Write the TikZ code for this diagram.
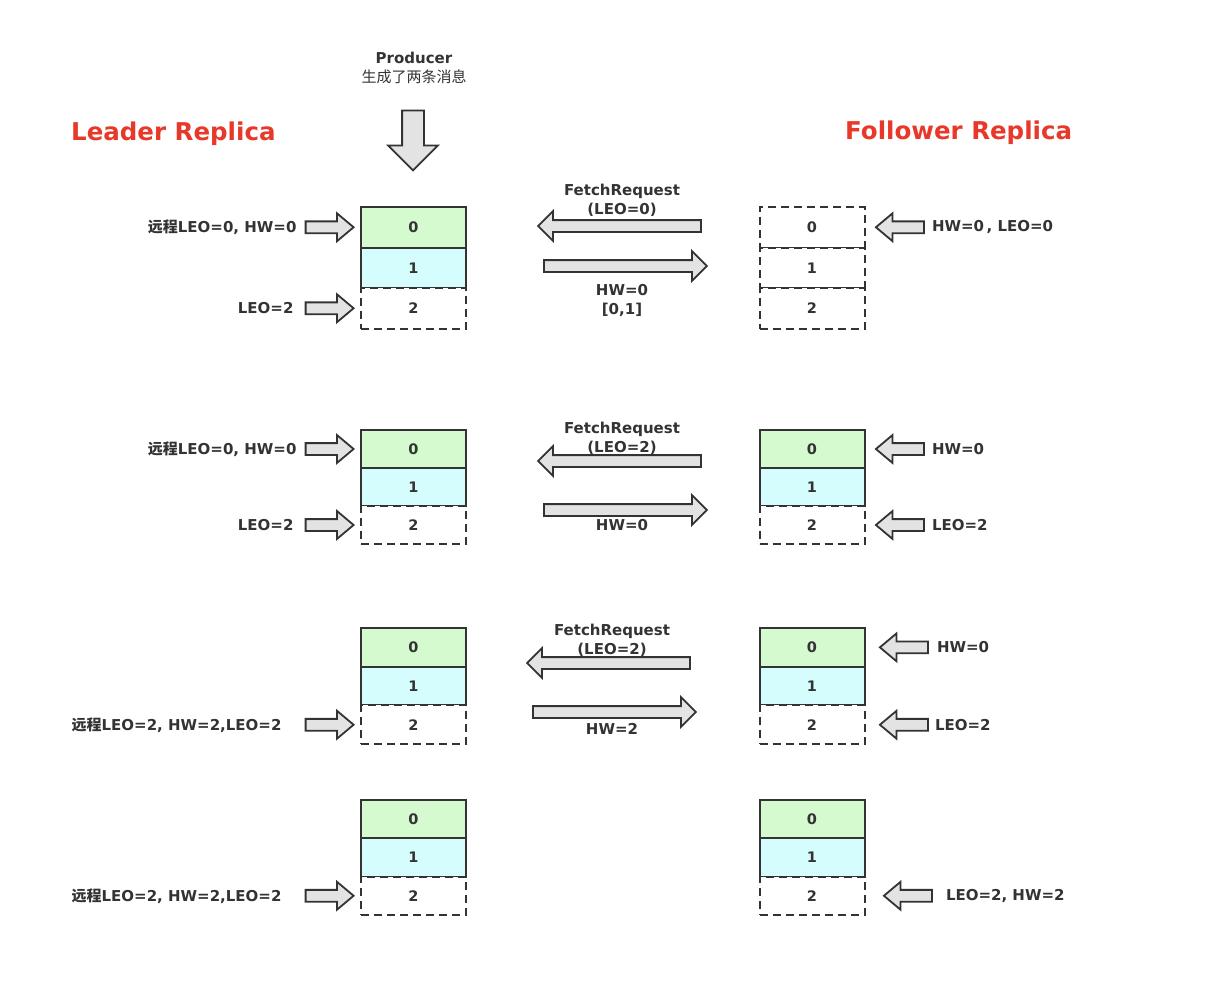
\documentclass[tikz,border=0pt]{standalone}
\usepackage{fontspec}
\setmainfont{DejaVu Sans}
\newfontfamily\cjk{Noto Sans CJK SC}
\usepackage{tikz}
\usetikzlibrary{positioning}
\usetikzlibrary{shapes.arrows}

\definecolor{edge}{HTML}{333333}
\definecolor{txt}{HTML}{333333}
\definecolor{msgok}{HTML}{D5FAD0}
\definecolor{msgnew}{HTML}{D5FDFD}
\definecolor{pointer}{HTML}{E3E3E3}
\definecolor{replica}{HTML}{E8382A}

\tikzset{
  cell/.style={draw=edge, line width=2pt, minimum width=105pt, inner sep=0pt, outer sep=0pt,
    font=\fontsize{14.5}{16}\selectfont\bfseries, text=txt},
  cellgreen/.style={cell, fill=msgok},
  cellcyan/.style={cell, fill=msgnew},
  cellopen/.style={cell, fill=white, dash pattern=on 8pt off 5pt},
  lbl/.style={font=\fontsize{15}{19}\selectfont\bfseries, text=txt, inner sep=0pt, align=center},
  replicatitle/.style={font=\fontsize{24.5}{28}\selectfont\bfseries, text=replica, inner sep=0pt},
  ptr/.style={single arrow, draw=edge, fill=pointer, line width=1.8pt, inner sep=5pt,
    single arrow head extend=8pt, single arrow tip angle=80, minimum height=48pt},
  ptrleft/.style={ptr, shape border rotate=180},
  msg/.style={ptr, single arrow head extend=9pt, single arrow tip angle=90, minimum height=163pt}
}

\begin{document}
\begin{tikzpicture}[x=1pt, y=-1pt]
\useasboundingbox (0,0) rectangle (1218,998);

% titles
\node[replicatitle, anchor=west] (leadertitle) at (71,134) {Leader Replica};
\node[replicatitle, anchor=west] (followertitle) at (845,133) {Follower Replica};

% producer
\node[lbl] (producer) at (414,68) {Producer\\{\cjk\mdseries 生成了两条消息}};
\node[ptr, shape border rotate=270, inner sep=10pt, single arrow head extend=14pt,
  single arrow tip angle=90, minimum height=60pt] (push) at (413,135) {};

% leader stacks
\foreach \r/\y/\h in {1/207/40.5, 2/430/38, 3/628/38.7, 4/800/38.3} {
  \node[cellgreen, minimum height=\h pt] (l\r-0) at (413.5,\y+\h/2) {0};
  \node[cellcyan, minimum height=\h pt, below=0pt of l\r-0] (l\r-1) {1};
  \node[cellopen, minimum height=\h pt, below=0pt of l\r-1] (l\r-2) {2};
}

% follower stacks
\node[cellopen, minimum height=40.5pt] (f1-0) at (812,227.25) {0};
\node[cellopen, minimum height=40.5pt, below=0pt of f1-0] (f1-1) {1};
\node[cellopen, minimum height=40.5pt, below=0pt of f1-1] (f1-2) {2};
\foreach \r/\y/\h in {2/430/38, 3/628/38.7, 4/800/38.3} {
  \node[cellgreen, minimum height=\h pt] (f\r-0) at (812,\y+\h/2) {0};
  \node[cellcyan, minimum height=\h pt, below=0pt of f\r-0] (f\r-1) {1};
  \node[cellopen, minimum height=\h pt, below=0pt of f\r-1] (f\r-2) {2};
}

% round 1
\node[ptr, left=6pt of l1-0] (lp1-0) {};
\node[lbl, left=8pt of lp1-0] (lt1-0) {{\cjk 远程}LEO=0, HW=0};
\node[ptr, left=6pt of l1-2] (lp1-2) {};
\node[lbl, left=11pt of lp1-2] (lt1-2) {LEO=2};
\node[ptrleft, right=10pt of f1-0] (fp1-0) {};
\node[lbl, right=7pt of fp1-0] (ft1-0) {HW=0\,, LEO=0};
\node[msg, shape border rotate=180] (fetch1) at (622.5,226) {};
\node[lbl] (fetcht1) at (622,200.5) {FetchRequest\\(LEO=0)};
\node[msg] (reply1) at (622.5,266) {};
\node[lbl] (replyt1) at (622,300.5) {HW=0\\{[0,1]}};

% round 2
\node[ptr, left=6pt of l2-0] (lp2-0) {};
\node[lbl, left=8pt of lp2-0] (lt2-0) {{\cjk 远程}LEO=0, HW=0};
\node[ptr, left=6pt of l2-2] (lp2-2) {};
\node[lbl, left=11pt of lp2-2] (lt2-2) {LEO=2};
\node[ptrleft, right=10pt of f2-0] (fp2-0) {};
\node[lbl, right=7pt of fp2-0] (ft2-0) {HW=0};
\node[ptrleft, right=10pt of f2-2] (fp2-2) {};
\node[lbl, right=7pt of fp2-2] (ft2-2) {LEO=2};
\node[msg, shape border rotate=180] (fetch2) at (622.5,461) {};
\node[lbl] (fetcht2) at (622,438.5) {FetchRequest\\(LEO=2)};
\node[msg] (reply2) at (622.5,510) {};
\node[lbl] (replyt2) at (622,525) {HW=0};

% round 3
\node[ptr, left=6pt of l3-2] (lp3-2) {};
\node[lbl, left=23pt of lp3-2] (lt3-2) {{\cjk 远程}LEO=2, HW=2,LEO=2};
\node[ptrleft, right=14pt of f3-0] (fp3-0) {};
\node[lbl, right=8pt of fp3-0] (ft3-0) {HW=0};
\node[ptrleft, right=14pt of f3-2] (fp3-2) {};
\node[lbl, right=6pt of fp3-2] (ft3-2) {LEO=2};
\node[msg, shape border rotate=180] (fetch3) at (611.5,663) {};
\node[lbl] (fetcht3) at (612,640.5) {FetchRequest\\(LEO=2)};
\node[msg] (reply3) at (611.5,712) {};
\node[lbl] (replyt3) at (612,729) {HW=2};

% round 4
\node[ptr, left=6pt of l4-2] (lp4-2) {};
\node[lbl, left=23pt of lp4-2] (lt4-2) {{\cjk 远程}LEO=2, HW=2,LEO=2};
\node[ptrleft, right=18pt of f4-2] (fp4-2) {};
\node[lbl, right=13pt of fp4-2] (ft4-2) {LEO=2, HW=2};
\end{tikzpicture}
\end{document}
